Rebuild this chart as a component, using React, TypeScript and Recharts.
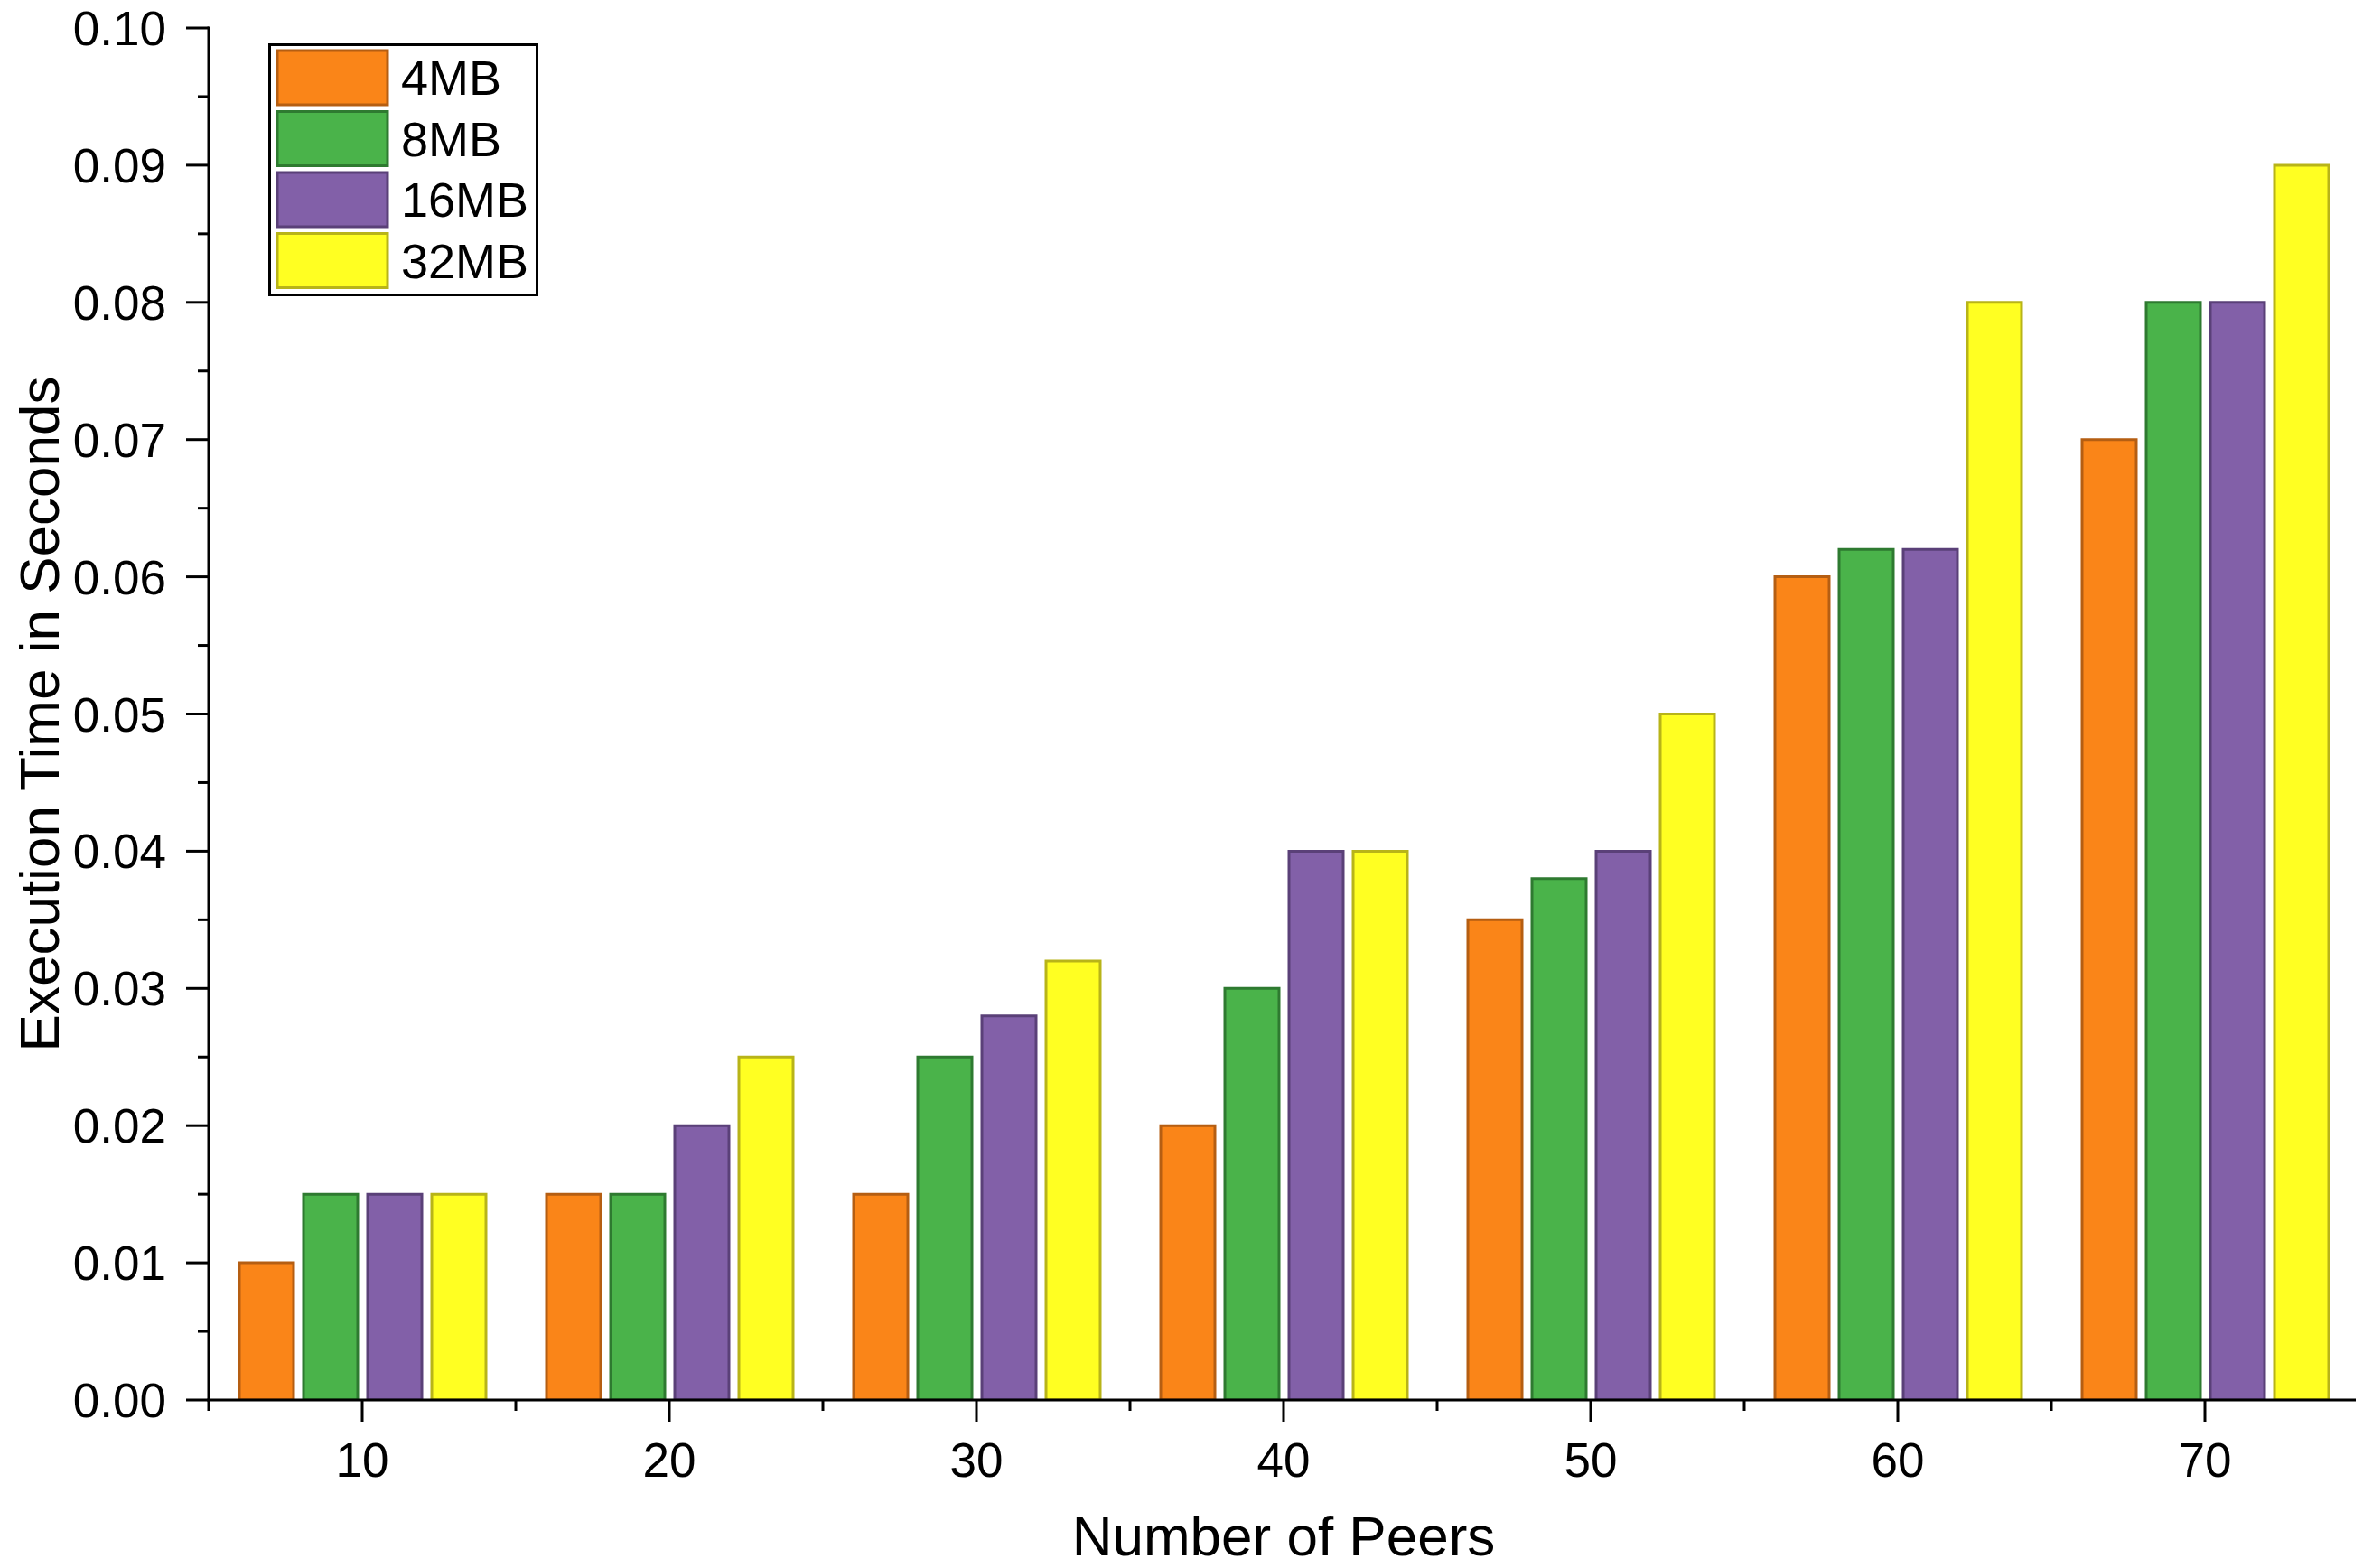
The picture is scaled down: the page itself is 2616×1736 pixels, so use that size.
import React from 'react';
import { BarChart, Bar, XAxis, YAxis, Legend } from 'recharts';

const categories = ['10', '20', '30', '40', '50', '60', '70'];
const mb4 = [0.01, 0.015, 0.015, 0.02, 0.035, 0.06, 0.07];
const mb8 = [0.015, 0.015, 0.025, 0.03, 0.038, 0.062, 0.08];
const mb16 = [0.015, 0.02, 0.028, 0.04, 0.04, 0.062, 0.08];
const mb32 = [0.015, 0.025, 0.032, 0.04, 0.05, 0.08, 0.09];
const yTicks = [0, 0.005, 0.01, 0.015, 0.02, 0.025, 0.03, 0.035, 0.04, 0.045, 0.05, 0.055, 0.06, 0.065, 0.07, 0.075, 0.08, 0.085, 0.09, 0.095, 0.1];

const seriesNames = ['4MB', '8MB', '16MB', '32MB'];
const seriesFill = ['#FA8518', '#4AB34A', '#8260A8', '#FFFF22'];
const seriesStroke = ['#B55E12', '#2E7A30', '#5A4078', '#B8B418'];

const data = categories.map((c, i) => ({
  cat: c,
  s4: mb4[i],
  s8: mb8[i],
  s16: mb16[i],
  s32: mb32[i],
}));
const keys = ['s4', 's8', 's16', 's32'];

const FONT = '"Liberation Sans", Arial, sans-serif';
const W = 2608;
const H = 1728;
const M = { top: 23, right: 5, left: 0, bottom: 0 };
const YW = 223;
const XH = 186;
const PLOT_W = W - M.left - M.right - YW;
const HALF_BAND = PLOT_W / categories.length / 2;

const YTick = (props: any) => {
  const { x, y, payload } = props;
  const v = payload.value;
  const major = Math.round(v * 1000) % 10 === 0;
  return (
    <g>
      <line x1={x - (major ? 25 : 12)} y1={y} x2={x} y2={y} stroke="#000" strokeWidth={3} />
      {major && (
        <text x={x - 47} y={y + 19} textAnchor="end" fontFamily={FONT} fontSize={53} fill="#000">
          {v.toFixed(2)}
        </text>
      )}
    </g>
  );
};

const XTick = (props: any) => {
  const { x, y, payload, index } = props;
  return (
    <g>
      <line x1={x} y1={y} x2={x} y2={y + 24} stroke="#000" strokeWidth={3} />
      <line x1={x + HALF_BAND} y1={y} x2={x + HALF_BAND} y2={y + 12} stroke="#000" strokeWidth={3} />
      {index === 0 && (
        <line x1={x - HALF_BAND} y1={y} x2={x - HALF_BAND} y2={y + 12} stroke="#000" strokeWidth={3} />
      )}
      <text x={x} y={y + 85} textAnchor="middle" fontFamily={FONT} fontSize={53} fill="#000">
        {payload.value}
      </text>
    </g>
  );
};

const YTitle = (props: any) => {
  const vb = props.viewBox || {};
  const cx = 57;
  const cy = vb.y + vb.height / 2;
  return (
    <text
      x={cx}
      y={cy}
      transform={`rotate(-90, ${cx}, ${cy})`}
      textAnchor="middle"
      fontFamily={FONT}
      fontSize={62}
      fill="#000"
    >
      Execution Time in Seconds
    </text>
  );
};

const XTitle = (props: any) => {
  const vb = props.viewBox || {};
  return (
    <text
      x={vb.x + vb.width / 2}
      y={vb.y + 172}
      textAnchor="middle"
      fontFamily={FONT}
      fontSize={62}
      fill="#000"
    >
      Number of Peers
    </text>
  );
};

const LegendBox = () => (
  <svg width={299} height={280} style={{ display: 'block' }}>
    <rect x={1.5} y={1.5} width={296} height={277} fill="#fff" stroke="#000" strokeWidth={3} />
    {seriesNames.map((n, i) => {
      const top = 8 + i * 67.5;
      return (
        <g key={n}>
          <rect x={10} y={top} width={122} height={60} fill={seriesFill[i]} stroke={seriesStroke[i]} strokeWidth={3} />
          <text x={147} y={top + 30 + 19} fontFamily={FONT} fontSize={54} fill="#000">
            {n}
          </text>
        </g>
      );
    })}
  </svg>
);

export default function App() {
  return (
    <div style={{ width: W, height: H, background: '#fff' }}>
      <BarChart width={W} height={H} data={data} margin={M} barSize={60} barGap={11}>
        <XAxis
          dataKey="cat"
          height={XH}
          tickLine={false}
          tickSize={0}
          tickMargin={0}
          interval={0}
          axisLine={{ stroke: '#000', strokeWidth: 3, strokeLinecap: 'square' }}
          tick={<XTick />}
          label={<XTitle />}
        />
        <XAxis
          xAxisId="top"
          orientation="top"
          dataKey="cat"
          height={0}
          tick={false}
          tickLine={false}
          axisLine={{ stroke: '#000', strokeWidth: 3, strokeLinecap: 'square' }}
        />
        <YAxis
          width={YW}
          domain={[0, 0.1]}
          ticks={yTicks}
          interval={0}
          allowDataOverflow
          tickLine={false}
          tickSize={0}
          tickMargin={0}
          axisLine={{ stroke: '#000', strokeWidth: 3, strokeLinecap: 'square' }}
          tick={<YTick />}
          label={<YTitle />}
        />
        <YAxis
          yAxisId="right"
          orientation="right"
          width={0}
          domain={[0, 0.1]}
          tick={false}
          tickLine={false}
          axisLine={{ stroke: '#000', strokeWidth: 3, strokeLinecap: 'square' }}
        />
        <Legend
          layout="vertical"
          align="center"
          verticalAlign="middle"
          wrapperStyle={{ position: 'absolute', left: 289, top: 40, width: 299, height: 280 }}
          content={() => <LegendBox />}
        />
        {keys.map((k, i) => (
          <Bar
            key={k}
            dataKey={k}
            name={seriesNames[i]}
            fill={seriesFill[i]}
            stroke={seriesStroke[i]}
            strokeWidth={3}
            isAnimationActive={false}
          />
        ))}
      </BarChart>
    </div>
  );
}
